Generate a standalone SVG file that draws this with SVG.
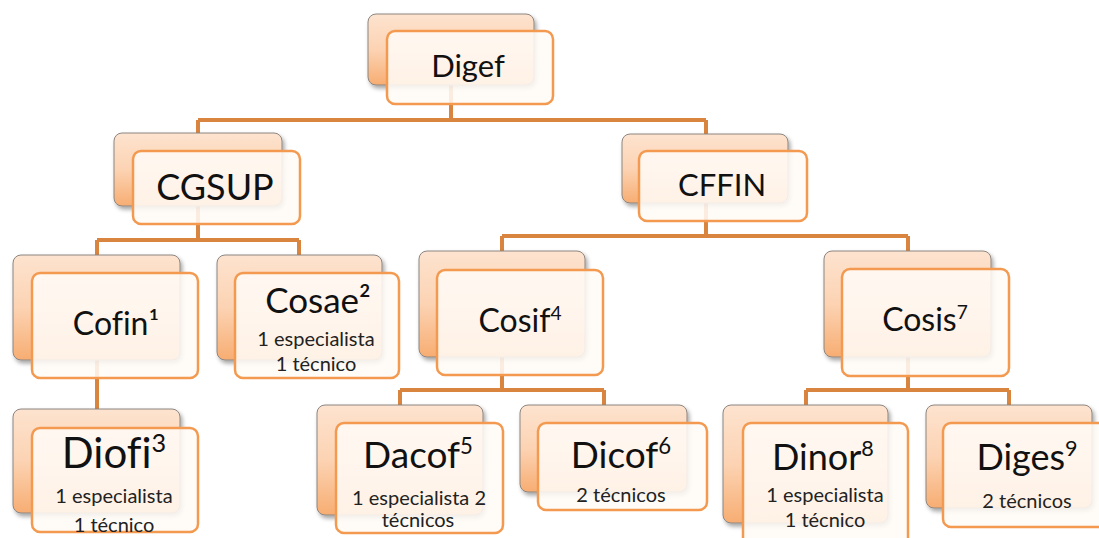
<svg xmlns="http://www.w3.org/2000/svg" width="1099" height="538" viewBox="0 0 1099 538">
<defs>
<linearGradient id="bg" x1="0" y1="0" x2="0" y2="1">
<stop offset="0" stop-color="#fde3cf"/>
<stop offset="0.5" stop-color="#fcd3b3"/>
<stop offset="1" stop-color="#f7ad72"/>
</linearGradient>
<filter id="sh" x="-10%" y="-10%" width="125%" height="130%">
<feDropShadow dx="2" dy="3" stdDeviation="2" flood-color="#000" flood-opacity="0.35"/>
</filter>
<style>
.back{fill:url(#bg);stroke:#8c8580;stroke-width:1;filter:url(#sh)}
.front{fill:#fffaf6;fill-opacity:0.88;stroke:#f39a50;stroke-width:2.5}
.conn{fill:none;stroke:#d9843f;stroke-width:4;stroke-linejoin:round}
text{font-family:Lato,"Liberation Sans",sans-serif;fill:#111;text-anchor:middle;font-variant-ligatures:none;font-feature-settings:"liga" 0}
.sub{font-size:20px;fill:#222}
.sup{font-size:0.6em}
</style>
</defs>
<rect width="1099" height="538" fill="#fff"/>
<g id="connectors">
<path class="conn" d="M451 85 V120 M198 120 H706 M198 120 V133 M706 120 V134"/>
<path class="conn" d="M198 206 V240 M97 240 H299 M97 240 V255 M299 240 V255"/>
<path class="conn" d="M97 360 V409"/>
<path class="conn" d="M706 203 V236 M502 236 H908 M502 236 V251 M908 236 V251"/>
<path class="conn" d="M502 357 V390 M400 390 H604 M400 390 V405 M604 390 V405"/>
<path class="conn" d="M908 357 V390 M806 390 H1009 M806 390 V405 M1009 390 V405"/>
</g>
<g id="digef">
<rect class="back" x="368" y="14" width="166" height="71" rx="8"/>
<rect class="front" x="387" y="31" width="166" height="73" rx="8"/>
<text x="468" y="77" font-size="31">Digef</text>
</g>
<g id="cgsup">
<rect class="back" x="114" y="133" width="168" height="73" rx="8"/>
<rect class="front" x="133" y="151" width="167" height="73" rx="8"/>
<text x="215" y="200" font-size="36">CGSUP</text>
</g>
<g id="cffin">
<rect class="back" x="622" y="134" width="166" height="69" rx="8"/>
<rect class="front" x="639" y="151" width="168" height="70" rx="8"/>
<text x="722" y="196" font-size="31">CFFIN</text>
</g>
<g id="cofin">
<rect class="back" x="13" y="255" width="167" height="105" rx="8"/>
<rect class="front" x="32" y="273" width="166" height="105" rx="8"/>
<text x="116" y="335" font-size="32">Cofin¹</text>
</g>
<g id="cosae">
<rect class="back" x="217" y="255" width="165" height="105" rx="8"/>
<rect class="front" x="235" y="273" width="164" height="105" rx="8"/>
<text x="318" y="313" font-size="35">Cosae²</text>
<text class="sub" x="316" y="346">1 especialista</text>
<text class="sub" x="316" y="371">1 técnico</text>
</g>
<g id="cosif">
<rect class="back" x="419" y="251" width="166" height="106" rx="8"/>
<rect class="front" x="437" y="270" width="166" height="105" rx="8"/>
<text x="520" y="332" font-size="32">Cosif<tspan class="sup" dy="-12">4</tspan></text>
</g>
<g id="cosis">
<rect class="back" x="824" y="251" width="167" height="106" rx="8"/>
<rect class="front" x="842" y="269" width="167" height="107" rx="8"/>
<text x="925" y="331" font-size="32">Cosis<tspan class="sup" dy="-12">7</tspan></text>
</g>
<g id="diofi">
<rect class="back" x="13" y="409" width="167" height="104" rx="8"/>
<rect class="front" x="32" y="428" width="166" height="104" rx="8"/>
<text x="114" y="468" font-size="42">Diofi<tspan class="sup" dy="-16">3</tspan></text>
<text class="sub" x="114" y="503" font-size="22">1 especialista</text>
<text class="sub" x="114" y="532" font-size="22">1 técnico</text>
</g>
<g id="dacof">
<rect class="back" x="317" y="405" width="166" height="110" rx="8"/>
<rect class="front" x="336" y="423" width="167" height="110" rx="8"/>
<text x="418" y="468" font-size="37">Dacof<tspan class="sup" dy="-14">5</tspan></text>
<text class="sub" x="419" y="505" font-size="20.5">1 especialista 2</text>
<text class="sub" x="418" y="527" font-size="20.5">técnicos</text>
</g>
<g id="dicof">
<rect class="back" x="520" y="405" width="167" height="87" rx="8"/>
<rect class="front" x="538" y="423" width="169" height="87" rx="8"/>
<text x="621" y="468" font-size="37">Dicof<tspan class="sup" dy="-14">6</tspan></text>
<text class="sub" x="621" y="502" font-size="21">2 técnicos</text>
</g>
<g id="dinor">
<rect class="back" x="723" y="405" width="165" height="118" rx="8"/>
<rect class="front" x="743" y="423" width="165" height="125" rx="8"/>
<text x="823" y="470" font-size="36">Dinor<tspan class="sup" dy="-14">8</tspan></text>
<text class="sub" x="825" y="502" font-size="20.5">1 especialista</text>
<text class="sub" x="825" y="527" font-size="20.5">1 técnico</text>
</g>
<g id="diges">
<rect class="back" x="926" y="405" width="166" height="103" rx="8"/>
<rect class="front" x="943" y="423" width="166" height="104" rx="8"/>
<text x="1027" y="470" font-size="36">Diges<tspan class="sup" dy="-14">9</tspan></text>
<text class="sub" x="1027" y="508" font-size="21">2 técnicos</text>
</g>
</svg>
